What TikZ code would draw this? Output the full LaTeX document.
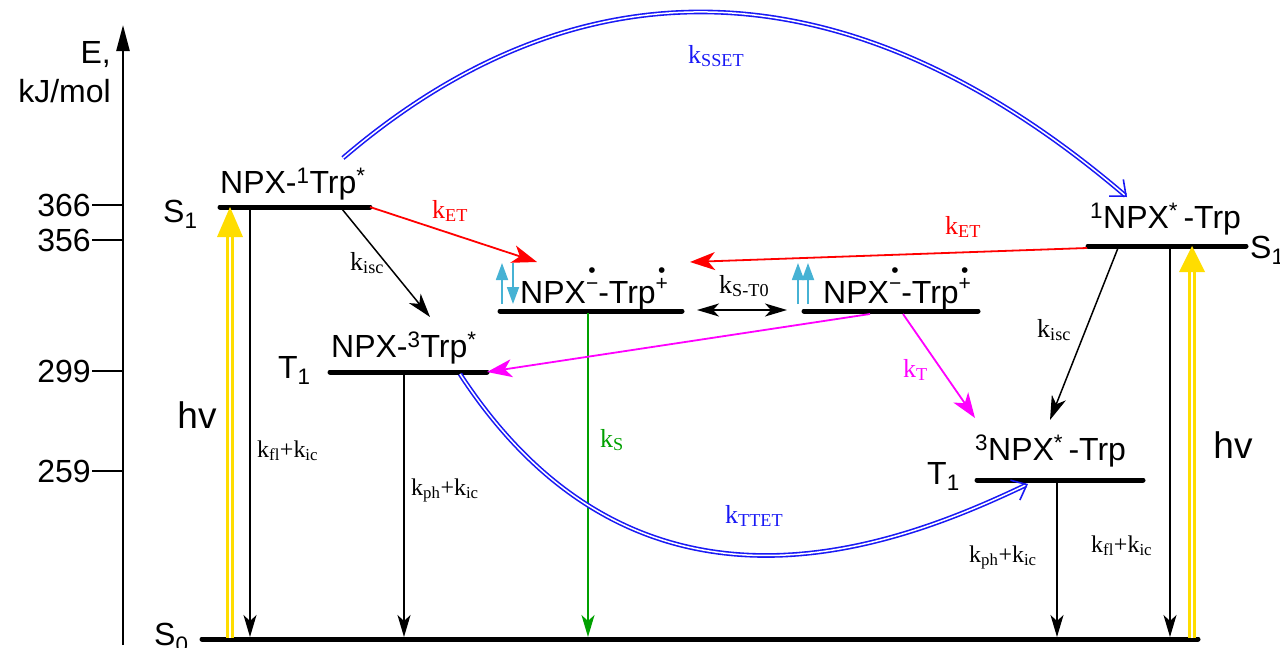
\documentclass[tikz,border=0pt]{standalone}
\usepackage{fontspec}
\setmainfont{Liberation Sans}
\newfontfamily\kfont{Liberation Serif}
\usetikzlibrary{arrows.meta,calc}
\definecolor{yel}{RGB}{255,221,0}
\definecolor{spinc}{RGB}{70,178,212}
\definecolor{grn}{RGB}{0,160,0}
\definecolor{blu}{RGB}{25,25,245}
\definecolor{mag}{RGB}{255,0,255}
\definecolor{rd}{RGB}{255,0,0}
\newcommand{\radsg}[1]{\raisebox{0.40em}{\fontsize{21}{21}\selectfont\ooalign{\hfil\raisebox{0.62em}{•}\hfil\cr\hfil#1\hfil\cr}}}
\newcommand{\kk}[1]{k\textsubscript{#1}}
\begin{document}
\begin{tikzpicture}[x=1pt,y=-1pt,
  level/.style={line width=5pt, line cap=round},
  lbl/.style={font=\fontsize{32}{32}\selectfont, inner sep=0pt},
  hvlbl/.style={font=\fontsize{37}{37}\selectfont, inner sep=0pt},
  klbl/.style={font=\kfont\fontsize{26}{26}\selectfont, inner sep=0pt},
  kdec/.style={font=\kfont\fontsize{24}{24}\selectfont, inner sep=0pt},
  decay/.style={line width=1.3pt, -{Stealth[length=22pt,width=13pt,inset=6pt]}},
  trans/.style={line width=1.5pt, -{Stealth[length=24pt,width=15pt,inset=7pt]}},
  ctrans/.style={line width=1.8pt, -{Stealth[length=25pt,width=18pt,inset=7pt]}},
  bluedbl/.style={draw=blu, line width=1.6pt, double=white, double distance=1.5pt, -{Straight Barb[length=13pt,width=22pt]}},
  yeldbl/.style={draw=yel, line width=2.8pt, double=white, double distance=2.6pt},
  spin/.style={draw=spinc, line width=1.8pt, -{Triangle[length=17pt,width=12pt]}}
]
\useasboundingbox (0,0) rectangle (1280,648);

% energy axis
\coordinate (axb) at (123,645);
\coordinate (axt) at (123,25);
\draw[line width=2.5pt, -{Triangle[length=26pt,width=13pt]}] (axb) -- (axt);
\node[lbl, anchor=base east] (axE) at (111,63) {E,};
\node[lbl, anchor=base east] (axU) at (111,102) {kJ/mol};
\foreach \v/\yy in {366/205, 356/240, 299/371, 259/471}{
  \draw[line width=2pt] (92,\yy) -- (123,\yy);
  \node[lbl, anchor=east] (tick\v) at (91,\yy) {\v};
}

% levels
\coordinate (S0a) at (202,639); \coordinate (S0b) at (1198,639);
\coordinate (S1La) at (220,207); \coordinate (S1Lb) at (370,207);
\coordinate (T1La) at (330,372); \coordinate (T1Lb) at (487,372);
\coordinate (RPa) at (500,311); \coordinate (RPb) at (682,311);
\coordinate (RTa) at (804,311); \coordinate (RTb) at (978,311);
\coordinate (S1Ra) at (1088,246); \coordinate (S1Rb) at (1246,246);
\coordinate (T1Ra) at (977,480); \coordinate (T1Rb) at (1143,480);
\foreach \a/\b in {S0a/S0b, S1La/S1Lb, T1La/T1Lb, RPa/RPb, RTa/RTb, S1Ra/S1Rb, T1Ra/T1Rb}
  \draw[level] (\a) -- (\b);

% level labels
\node[lbl, anchor=base west] (S0lab) at (154,645) {S\textsubscript{0}};
\node[lbl, anchor=base west] (S1Llab) at (163,222) {S\textsubscript{1}};
\node[lbl, anchor=base west] (T1Llab) at (278,378) {T\textsubscript{1}};
\node[lbl, anchor=base west] (S1Rlab) at (1250,258) {S\textsubscript{1}};
\node[lbl, anchor=base west] (T1Rlab) at (927,484) {T\textsubscript{1}};
\node[lbl, anchor=base west] (S1Ltxt) at (220,193) {NPX-\textsuperscript{1}Trp\textsuperscript{*}};
\node[lbl, anchor=base west] (T1Ltxt) at (331,357) {NPX-\textsuperscript{3}Trp\textsuperscript{*}};
\node[lbl, anchor=base west] (RPtxt) at (520,303) {NPX\radsg{−}-Trp\radsg{+}};
\node[lbl, anchor=base west] (RTtxt) at (823,303) {NPX\radsg{−}-Trp\radsg{+}};
\node[lbl, anchor=base west] (S1Rtxt) at (1090,228) {\textsuperscript{1}NPX\textsuperscript{*}\,-Trp};
\node[lbl, anchor=base west] (T1Rtxt) at (975,460) {\textsuperscript{3}NPX\textsuperscript{*}\,-Trp};

% spin icons
\draw[spin] (502,304) -- (502,263);
\draw[spin] (513,263) -- (513,304);
\draw[spin] (798,304) -- (798,263);
\draw[spin] (808,304) -- (808,263);

% hv excitation arrows
\coordinate (hvLb) at (230,638); \coordinate (hvLt) at (230,207);
\coordinate (hvRb) at (1192,638); \coordinate (hvRt) at (1192,246);
\draw[yeldbl] (hvLb) -- ($(hvLt)+(0,26)$);
\fill[yel] (hvLt) -- ($(hvLt)+(-13,30)$) -- ($(hvLt)+(13,30)$) -- cycle;
\draw[yeldbl] (hvRb) -- ($(hvRt)+(0,22)$);
\fill[yel] (hvRt) -- ($(hvRt)+(-13,26)$) -- ($(hvRt)+(13,26)$) -- cycle;
\node[hvlbl] (hvL) at (197,415) {hv};
\node[hvlbl] (hvR) at (1233,445) {hv};

% decays
\coordinate (dA1) at (250,209); \coordinate (dA2) at (250,637);
\coordinate (dB1) at (404,374); \coordinate (dB2) at (404,637);
\coordinate (dC1) at (588,313); \coordinate (dC2) at (588,637);
\coordinate (dD1) at (1057,482); \coordinate (dD2) at (1057,637);
\coordinate (dE1) at (1170,248); \coordinate (dE2) at (1170,637);
\draw[decay] (dA1) -- (dA2);
\draw[decay] (dB1) -- (dB2);
\draw[decay, draw=grn, fill=grn, line width=1.8pt] (dC1) -- (dC2);
\draw[decay] (dD1) -- (dD2);
\draw[decay] (dE1) -- (dE2);
\node[kdec, anchor=base west] (kflL) at (257,457) {\kk{fl}+\kk{ic}};
\node[kdec, anchor=base west] (kphL) at (411,495) {\kk{ph}+\kk{ic}};
\node[kdec, anchor=base west] (kphR) at (969,562) {\kk{ph}+\kk{ic}};
\node[kdec, anchor=base west] (kflR) at (1091,552) {\kk{fl}+\kk{ic}};
\node[klbl, anchor=base west, text=grn] (kS) at (600,447) {\kk{S}};

% transitions
\coordinate (iscLa) at (342,209); \coordinate (iscLb) at (430,317);
\draw[trans] (iscLa) -- (iscLb);
\node[klbl, anchor=base west] (kiscL) at (350,270) {\kk{isc}};
\coordinate (iscRa) at (1118,248); \coordinate (iscRb) at (1050,420);
\draw[trans] (iscRa) -- (iscRb);
\node[klbl, anchor=base west] (kiscR) at (1037,337) {\kk{isc}};

\draw[ctrans, rd] (S1Lb) -- (537,262) coordinate (etLb);
\node[klbl, anchor=base west, text=rd] (kETL) at (432,218) {\kk{ET}};
\coordinate (etRa) at (1087,248);
\draw[ctrans, rd] (etRa) -- (690,262) coordinate (etRb);
\node[klbl, anchor=base west, text=rd] (kETR) at (945,234) {\kk{ET}};

\coordinate (stA) at (697,310); \coordinate (stB) at (787,310);
\draw[line width=1.5pt, {Stealth[length=22pt,width=13pt,inset=6pt]}-{Stealth[length=22pt,width=13pt,inset=6pt]}] (stA) -- (stB);
\node[klbl, anchor=base west] (kST) at (719,293) {\kk{S-T0}};

\coordinate (magAa) at (870,314);
\draw[ctrans, mag] (magAa) -- (T1Lb);
\coordinate (magBa) at (903,314); \coordinate (magBb) at (975,418);
\draw[ctrans, mag] (magBa) -- (magBb);
\node[klbl, anchor=base west, text=mag] (kT) at (903,377) {\kk{T}};

% energy transfer arcs
\coordinate (ssetA) at (343,158); \coordinate (ssetB) at (1127,197);
\draw[bluedbl] (ssetA) .. controls (580,-45) and (850,-40) .. (ssetB);
\node[klbl, anchor=base west, text=blu] (kSSET) at (688,63) {\kk{SSET}};
\coordinate (ttetA) at (460,374); \coordinate (ttetB) at (1028,484);
\draw[bluedbl] (ttetA) .. controls (640,650) and (900,545) .. (ttetB);
\node[klbl, anchor=base west, text=blu] (kTTET) at (725,523) {\kk{TTET}};
\end{tikzpicture}
\end{document}
